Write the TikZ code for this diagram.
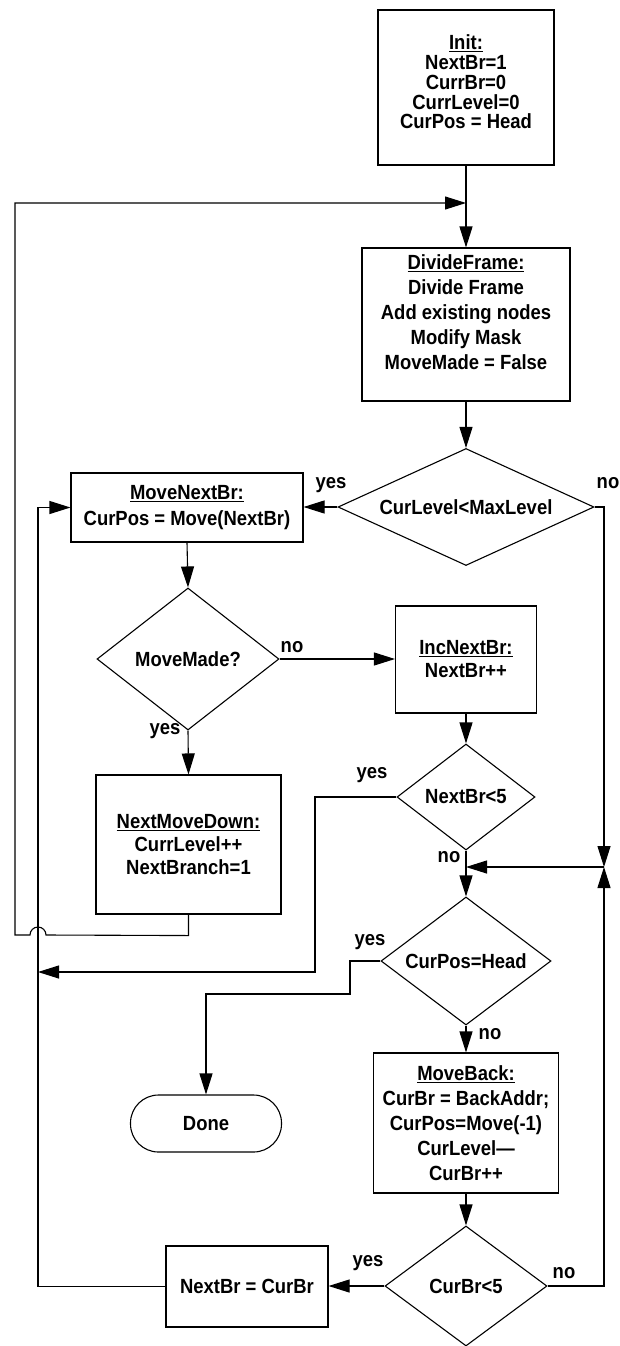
\documentclass[tikz,border=0pt]{standalone}
\usepackage{fontspec}
\setmainfont{Liberation Sans}
\newfontfamily\flowfont{Liberation Sans}[FakeStretch=0.9]
\usetikzlibrary{arrows.meta,shapes.geometric}
\begin{document}
\begin{tikzpicture}[x=1pt,y=-1pt,
  every node/.style={font=\flowfont\bfseries\fontsize{20.5}{23}\selectfont},
  box/.style={draw, line width=1.1pt, inner sep=0pt, align=center},
  dia/.style={draw, diamond, line width=1.1pt, inner sep=0pt, align=center},
  term/.style={draw, rounded corners=28pt, line width=1.1pt, inner sep=0pt,
               minimum width=151pt, minimum height=57pt},
  txt/.style={inner sep=0pt, align=center},
  flow/.style={line width=1.1pt, -{Triangle[length=21pt,width=13pt]}},
  lbl/.style={inner sep=0pt}
]
\useasboundingbox (0,0) rectangle (620,1346);

% process boxes
\node[box, minimum width=176pt, minimum height=155pt] (init) at (466,87.5) {};
\node[txt, font=\flowfont\bfseries\fontsize{20.5}{19.8}\selectfont] (initT) at (466,82)
  {\underline{Init:}\\NextBr=1\\CurrBr=0\\CurrLevel=0\\CurPos = Head};

\node[box, minimum width=208pt, minimum height=153pt] (divf) at (466,324.5) {};
\node[txt, font=\flowfont\bfseries\fontsize{20.5}{25}\selectfont] (divfT) at (466,312.5)
  {\underline{DivideFrame:}\\Divide Frame\\Add existing nodes\\Modify Mask\\MoveMade = False};

\node[box, minimum width=232pt, minimum height=69pt,
      font=\flowfont\bfseries\fontsize{20.5}{26}\selectfont] (mnb) at (187,507.5)
  {\underline{MoveNextBr:}\\CurPos = Move(NextBr)};

\node[box, minimum width=141pt, minimum height=107pt] (inc) at (466,659.5)
  {\underline{IncNextBr:}\\NextBr++};

\node[box, minimum width=185pt, minimum height=139pt] (nmd) at (188.5,844.5)
  {\underline{NextMoveDown:}\\CurrLevel++\\NextBranch=1};

\node[box, minimum width=185pt, minimum height=140pt,
      font=\flowfont\bfseries\fontsize{20.5}{25}\selectfont] (mb) at (466,1123)
  {\underline{MoveBack:}\\CurBr = BackAddr;\\CurPos=Move(-1)\\CurLevel—\\CurBr++};

\node[box, minimum width=162pt, minimum height=81pt] (nbc) at (247,1286.5) {NextBr = CurBr};

\node[term] (done) at (206,1123.5) {Done};

% decisions
\node[dia, shape aspect=2.19, minimum width=256pt, minimum height=117pt] (d1) at (466,507) {CurLevel<MaxLevel};
\node[dia, shape aspect=1.28, minimum width=182pt, minimum height=142pt] (d2) at (188,659) {MoveMade?};
\node[dia, shape aspect=1.3, minimum width=138pt, minimum height=106pt] (d3) at (466,797) {NextBr<5};
\node[dia, shape aspect=1.33, minimum width=170pt, minimum height=128pt] (d4) at (466,961) {CurPos=Head};
\node[dia, shape aspect=1.35, minimum width=162pt, minimum height=120pt] (d5) at (466,1286) {CurBr<5};

% routing points
\coordinate (outerx) at (15,0);
\coordinate (innerx) at (38,0);
\coordinate (rightx) at (604,0);
\coordinate (jtop) at (466,203);
\coordinate (jr) at (604,867);
\coordinate (jm) at (466,867);
\coordinate (d3ret) at (38,972);

% connectors
\draw[flow] (init.south) -- (divf.north);
\draw[flow] (nmd.south) -- ++(0,21) -- (46,935)
  arc[start angle=0, end angle=-180, radius=8] -- (outerx |- 0,935) -- (outerx |- jtop) -- (jtop);
\draw[flow] (divf.south) -- (d1.north);
\draw[flow] (d1.west) -- (d1.west -| mnb.east);
\draw[flow] (nbc.west) -- (innerx |- nbc.west) -- (innerx |- mnb.west) -- (mnb.west);
\draw[flow] (mnb.south) -- (d2.north);
\draw[flow] (d2.east) -- (d2.east -| inc.west);
\draw[flow] (d2.south) -- (nmd.north);
\draw[flow] (inc.south) -- (d3.north);
\draw[flow] (d3.west) -- (315,797) -- (315,972) -- (d3ret);
\draw[flow] (d3.south) -- (d4.north);
\draw[flow] (d1.east) -- (rightx |- d1.east) -- (jr);
\draw[flow] (d5.east) -- (rightx |- d5.east) -- (jr);
\draw[flow] (jr) -- (jm);
\draw[flow] (d4.west) -- (350,961) -- (350,994) -- (206,994) -- (done.north);
\draw[flow] (d4.south) -- (mb.north);
\draw[flow] (mb.south) -- (d5.north);
\draw[flow] (d5.west) -- (d5.west -| nbc.east);

% branch labels
\node[lbl] (y1) at (331,485) {yes};
\node[lbl] (n1) at (608,483) {no};
\node[lbl] (n2) at (292,647) {no};
\node[lbl] (y2) at (165,731) {yes};
\node[lbl] (y3) at (372,775) {yes};
\node[lbl] (n3) at (449,857) {no};
\node[lbl] (y4) at (370,942) {yes};
\node[lbl] (n4) at (490,1034) {no};
\node[lbl] (y5) at (368,1263) {yes};
\node[lbl] (n5) at (564,1273) {no};
\end{tikzpicture}
\end{document}
